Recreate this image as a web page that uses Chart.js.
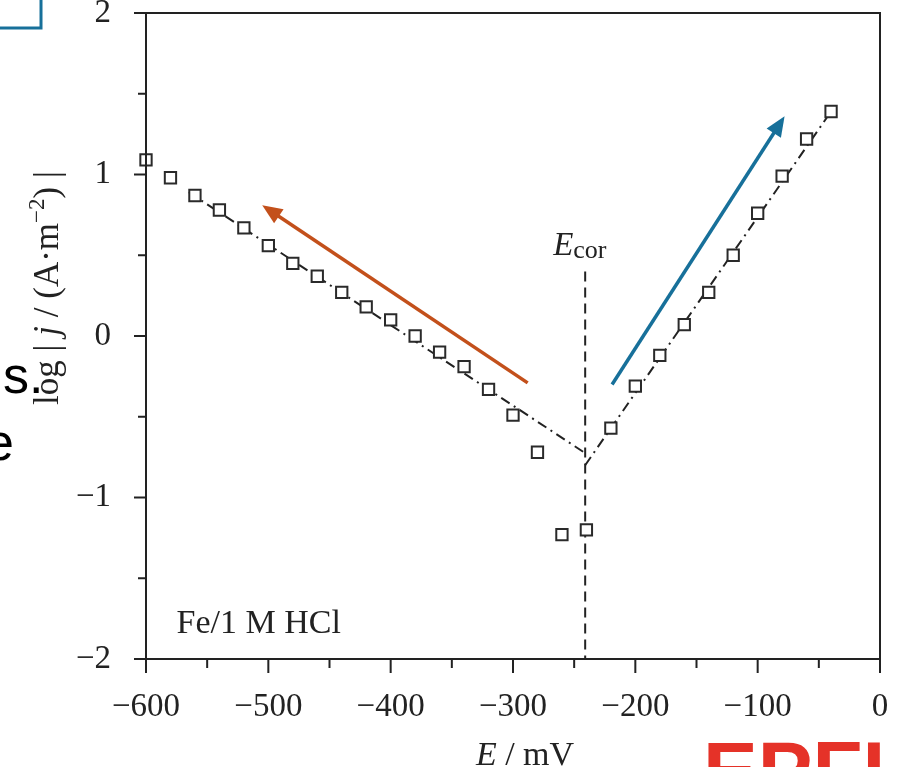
<!DOCTYPE html>
<html>
<head>
<meta charset="utf-8">
<title>Fe / 1 M HCl polarisation curve</title>
<script src="https://cdn.jsdelivr.net/npm/chart.js@4.4.1/dist/chart.umd.min.js"></script>
<style>
  html, body { margin: 0; padding: 0; background: #fff; }
  #wrap { position: relative; width: 897px; height: 767px; overflow: hidden; }
</style>
</head>
<body>
<div id="wrap"><canvas id="tafelChart" width="897" height="767"></canvas></div>
<script>
// measured points, E in mV, log|j| with j in A/m2
const cathodicE = [-600, -580, -560, -540, -520, -500, -480, -460, -440, -420, -400, -380, -360, -340, -320, -300, -280, -260, -240];
const cathodicLogJ = [1.09, 0.98, 0.87, 0.78, 0.67, 0.56, 0.45, 0.37, 0.27, 0.18, 0.10, 0.00, -0.10, -0.19, -0.33, -0.49, -0.72, -1.23, -1.20];
const anodicE = [-220, -200, -180, -160, -140, -120, -100, -80, -60, -40];
const anodicLogJ = [-0.57, -0.31, -0.12, 0.07, 0.27, 0.50, 0.76, 0.99, 1.22, 1.39];

// Tafel fit lines
const cathodicFitE = [-565, -242];
const cathodicFitLogJ = [0.89, -0.72];
const anodicFitE = [-241, -40];
const anodicFitLogJ = [-0.80, 1.39];

// corrosion potential marker
const ecorE = -241;
const ecorLineLogJ = [0.40, -2];

// arrows (from -> to)
const cathodicArrowE = [-288, -505];
const cathodicArrowLogJ = [-0.29, 0.81];
const anodicArrowE = [-219, -78];
const anodicArrowLogJ = [-0.30, 1.36];

// ticks
const xTicks = [-600, -500, -400, -300, -200, -100, 0];
const xMinorTicks = [-550, -450, -350, -250, -150, -50];
const yTicks = [-2, -1, 0, 1, 2];
const yMinorTicks = [-1.5, -0.5, 0.5, 1.5];

const serif = "'Liberation Serif', 'Times New Roman', serif";
const ink = '#222';
const orange = '#c3501b';
const blue = '#17709a';

const pts = (xs, ys) => xs.map((x, i) => ({ x: x, y: ys[i] }));
const minus = v => (v < 0 ? '\u2212' + Math.abs(v) : String(v));

function arrow(ctx, x0, y0, x1, y1, color) {
  const a = Math.atan2(y1 - y0, x1 - x0);
  const len = 20, half = 8.5;
  const bx = x1 - Math.cos(a) * len, by = y1 - Math.sin(a) * len;
  ctx.strokeStyle = color;
  ctx.fillStyle = color;
  ctx.lineWidth = 3.5;
  ctx.beginPath();
  ctx.moveTo(x0, y0);
  ctx.lineTo(bx + Math.cos(a) * 2, by + Math.sin(a) * 2);
  ctx.stroke();
  ctx.beginPath();
  ctx.moveTo(x1, y1);
  ctx.lineTo(bx - Math.sin(a) * half, by + Math.cos(a) * half);
  ctx.lineTo(bx + Math.sin(a) * half, by - Math.cos(a) * half);
  ctx.closePath();
  ctx.fill();
}

// draws mixed-style text runs starting at x, returns width
function runs(ctx, parts, x, y, measureOnly) {
  let w = 0;
  parts.forEach(p => {
    ctx.font = p.font;
    if (!measureOnly) ctx.fillText(p.t, x + w, y + (p.dy || 0));
    w += ctx.measureText(p.t).width;
  });
  return w;
}

const noPad = s => { s.paddingLeft = 0; s.paddingRight = 0; s.paddingTop = 0; s.paddingBottom = 0; };

const extras = {
  id: 'extras',
  beforeDatasetsDraw(chart) {
    const { ctx, scales: { x, y } } = chart;
    ctx.save();
    arrow(ctx, x.getPixelForValue(cathodicArrowE[0]), y.getPixelForValue(cathodicArrowLogJ[0]),
      x.getPixelForValue(cathodicArrowE[1]), y.getPixelForValue(cathodicArrowLogJ[1]), orange);
    arrow(ctx, x.getPixelForValue(anodicArrowE[0]), y.getPixelForValue(anodicArrowLogJ[0]),
      x.getPixelForValue(anodicArrowE[1]), y.getPixelForValue(anodicArrowLogJ[1]), blue);
    ctx.restore();
  },
  afterDraw(chart) {
    const { ctx, chartArea: a, scales: { x, y } } = chart;
    ctx.save();
    // frame
    ctx.strokeStyle = ink;
    ctx.lineWidth = 2;
    ctx.strokeRect(a.left, a.top, a.right - a.left, a.bottom - a.top);
    // tick marks
    ctx.beginPath();
    xTicks.forEach(v => { const p = x.getPixelForValue(v); ctx.moveTo(p, a.bottom); ctx.lineTo(p, a.bottom + 14); });
    xMinorTicks.forEach(v => { const p = x.getPixelForValue(v); ctx.moveTo(p, a.bottom); ctx.lineTo(p, a.bottom + 9); });
    yTicks.forEach(v => { const p = y.getPixelForValue(v); ctx.moveTo(a.left, p); ctx.lineTo(a.left - 12, p); });
    yMinorTicks.forEach(v => { const p = y.getPixelForValue(v); ctx.moveTo(a.left, p); ctx.lineTo(a.left - 8, p); });
    ctx.stroke();

    ctx.fillStyle = ink;
    ctx.textBaseline = 'alphabetic';
    ctx.textAlign = 'left';

    // E_cor label
    const ex = x.getPixelForValue(ecorE) - 32;
    const ey = y.getPixelForValue(0.50);
    runs(ctx, [
      { t: 'E', font: 'italic 33px ' + serif },
      { t: 'cor', font: '26px ' + serif, dy: 3 }
    ], ex, ey);

    // system label
    ctx.font = '34px ' + serif;
    ctx.fillText('Fe/1 M HCl', x.getPixelForValue(-575), y.getPixelForValue(-1.84));

    // x title
    const xt = [
      { t: 'E', font: 'italic 34px ' + serif },
      { t: ' / mV', font: '34px ' + serif }
    ];
    const xw = runs(ctx, xt, 0, 0, true);
    runs(ctx, xt, 525 - xw / 2, 765);

    // y title
    const yt = [
      { t: 'log | ', font: '35px ' + serif },
      { t: 'j', font: 'italic 35px ' + serif },
      { t: ' / (A\u00b7m', font: '35px ' + serif },
      { t: '\u22122', font: '23px ' + serif, dy: -14 },
      { t: ') |', font: '35px ' + serif }
    ];
    const yw = runs(ctx, yt, 0, 0, true);
    ctx.translate(58, 288);
    ctx.rotate(-Math.PI / 2);
    runs(ctx, yt, -yw / 2, 0);
    ctx.restore();

    // bits of the surrounding slide
    ctx.save();
    ctx.strokeStyle = blue;
    ctx.lineWidth = 3;
    ctx.strokeRect(-10, -10, 51, 38);
    ctx.fillStyle = '#000';
    ctx.font = "52px 'Liberation Sans', Arial, sans-serif";
    ctx.fillText('s.', 3, 393);
    ctx.fillText('e', -15, 460);
    ctx.fillStyle = '#e53228';
    ctx.font = "bold 82px 'Liberation Sans', Arial, sans-serif";
    ctx.fillText('EPFL', 703, 799);
    ctx.restore();
  }
};

const ctx = document.getElementById('tafelChart').getContext('2d');
const tickFont = { family: serif, size: 33 };

const chart = new Chart(ctx, {
  type: 'scatter',
  data: {
    datasets: [
      {
        label: 'cathodic',
        data: pts(cathodicE, cathodicLogJ),
        pointStyle: 'rect',
        pointRadius: 8,
        borderColor: '#2a2a2a',
        backgroundColor: '#fff',
        borderWidth: 2,
        clip: false
      },
      {
        label: 'anodic',
        data: pts(anodicE, anodicLogJ),
        pointStyle: 'rect',
        pointRadius: 8,
        borderColor: '#2a2a2a',
        backgroundColor: '#fff',
        borderWidth: 2,
        clip: false
      },
      {
        label: 'cathodic fit',
        data: pts(cathodicFitE, cathodicFitLogJ),
        showLine: true,
        pointRadius: 0,
        borderColor: ink,
        borderWidth: 2,
        borderDash: [10, 5, 2, 5]
      },
      {
        label: 'anodic fit',
        data: pts(anodicFitE, anodicFitLogJ),
        showLine: true,
        pointRadius: 0,
        borderColor: ink,
        borderWidth: 2,
        borderDash: [10, 5, 2, 5]
      },
      {
        label: 'Ecor',
        data: pts([ecorE, ecorE], ecorLineLogJ),
        showLine: true,
        pointRadius: 0,
        borderColor: ink,
        borderWidth: 2,
        borderDash: [10, 6]
      }
    ]
  },
  options: {
    responsive: false,
    devicePixelRatio: 1,
    animation: false,
    layout: { padding: { top: 13, right: 17, left: 0, bottom: 0 } },
    plugins: {
      legend: { display: false },
      tooltip: { enabled: false }
    },
    scales: {
      x: {
        type: 'linear',
        min: -600,
        max: 0,
        grid: { display: false },
        border: { display: false },
        afterBuildTicks: s => { s.ticks = xTicks.map(v => ({ value: v })); },
        afterFit: s => { s.height = 108; noPad(s); },
        ticks: {
          font: tickFont,
          color: ink,
          padding: 21,
          maxRotation: 0,
          callback: v => minus(v)
        }
      },
      y: {
        min: -2,
        max: 2,
        grid: { display: false },
        border: { display: false },
        afterBuildTicks: s => { s.ticks = yTicks.map(v => ({ value: v })); },
        afterFit: s => { s.width = 146; noPad(s); },
        ticks: {
          font: tickFont,
          color: ink,
          padding: 27,
          callback: v => minus(v)
        }
      }
    }
  },
  plugins: [extras]
});
</script>
</body>
</html>
